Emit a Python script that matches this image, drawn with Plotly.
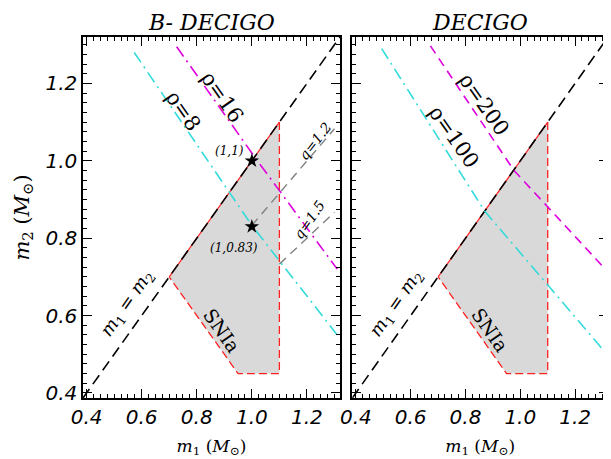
import plotly.graph_objects as go

# ---- data ----
diag = [0.387, 1.32]

snia_m1 = [0.7, 1.1, 1.1, 0.95, 0.7]
snia_m2 = [0.7, 1.1, 0.45, 0.45, 0.7]

q12_m1 = [1.0, 1.3]
q12_m2 = [0.833, 1.083]
q15_m1 = [1.1, 1.3]
q15_m2 = [0.733, 0.867]

left_rho8_m1 = [0.573, 1.0, 1.31]
left_rho8_m2 = [1.28, 0.833, 0.55]
left_rho16_m1 = [0.727, 1.01, 1.31]
left_rho16_m2 = [1.295, 1.01, 0.72]

right_rho100_m1 = [0.494, 0.87, 1.31]
right_rho100_m2 = [1.29, 0.87, 0.505]
right_rho200_m1 = [0.672, 0.977, 1.31]
right_rho200_m2 = [1.297, 0.975, 0.72]

star_m1 = [1.0, 1.0]
star_m2 = [1.0, 0.83]
star_labels = ["(1,1)", "(1,0.83)"]

tick_vals = [0.4, 0.6, 0.8, 1.0, 1.2]
tick_text = ["0.4", "0.6", "0.8", "1.0", "1.2"]
axis_range = [0.387, 1.32]

CYAN = "#33dada"
MAGENTA = "#dd00dd"
RED = "#ff2020"
GRAY = "#808080"
SERIF = "DejaVu Serif"

fig = go.Figure()


def panel(xa, ya, rho_lo, rho_hi, hi_dash, show_q):
    # SNIa region
    fig.add_trace(go.Scatter(x=snia_m1, y=snia_m2, mode="lines", fill="toself",
                             fillcolor="#d9d9d9", line=dict(width=0),
                             xaxis=xa, yaxis=ya, hoverinfo="skip"))
    fig.add_trace(go.Scatter(x=snia_m1[:2], y=snia_m2[:2], mode="lines",
                             line=dict(color=RED, width=1.2),
                             xaxis=xa, yaxis=ya))
    fig.add_trace(go.Scatter(x=snia_m1[1:], y=snia_m2[1:], mode="lines",
                             line=dict(color=RED, width=1.3, dash="8px,4px"),
                             xaxis=xa, yaxis=ya))
    # m1 = m2
    fig.add_trace(go.Scatter(x=diag, y=diag, mode="lines",
                             line=dict(color="black", width=1.6, dash="11px,6px"),
                             xaxis=xa, yaxis=ya))
    if show_q:
        for qx, qy in ((q12_m1, q12_m2), (q15_m1, q15_m2)):
            fig.add_trace(go.Scatter(x=qx, y=qy, mode="lines",
                                     line=dict(color=GRAY, width=1.4, dash="9px,6px"),
                                     xaxis=xa, yaxis=ya))
    fig.add_trace(go.Scatter(x=rho_lo[0], y=rho_lo[1], mode="lines",
                             line=dict(color=CYAN, width=1.6, dash="12px,5px,2px,5px"),
                             xaxis=xa, yaxis=ya))
    fig.add_trace(go.Scatter(x=rho_hi[0], y=rho_hi[1], mode="lines",
                             line=dict(color=MAGENTA, width=1.6, dash=hi_dash),
                             xaxis=xa, yaxis=ya))


panel("x", "y", (left_rho8_m1, left_rho8_m2), (left_rho16_m1, left_rho16_m2),
      "12px,5px,2px,5px", True)
panel("x2", "y2", (right_rho100_m1, right_rho100_m2), (right_rho200_m1, right_rho200_m2),
      "9px,6px", False)

fig.add_trace(go.Scatter(x=star_m1, y=star_m2, mode="markers",
                         marker=dict(symbol="star", size=11, color="black"),
                         xaxis="x", yaxis="y"))

axis_common = dict(range=axis_range, tickvals=tick_vals, ticktext=tick_text,
                   automargin=False,
                   ticks="inside", ticklen=9, tickwidth=1.3, tickcolor="black",
                   showline=True, linecolor="black", linewidth=1.5, mirror="allticks",
                   showgrid=False, zeroline=False,
                   minor=dict(dtick=0.025, tick0=0.4, ticks="inside", ticklen=4,
                              tickwidth=1, tickcolor="black", showgrid=False),
                   tickfont=dict(family="DejaVu Sans", size=20, color="black", style="italic"))

xtitle = dict(text="<i>m</i><sub>1</sub> (<i>M</i><sub>⊙</sub>)",
              font=dict(family=SERIF, size=17, color="black"), standoff=12)
ytitle = dict(text="<i>m</i><sub>2</sub> (<i>M</i><sub>⊙</sub>)",
              font=dict(family=SERIF, size=21, color="black"), standoff=10)

# the page places the figure 8px in from the top-left corner
fig.update_layout(
    width=603, height=451,
    margin=dict(l=75, r=3, t=29, b=61),
    paper_bgcolor="white", plot_bgcolor="white",
    showlegend=False,
    xaxis=dict(domain=[0, 0.4895], anchor="y", title=xtitle, **axis_common),
    xaxis2=dict(domain=[0.513, 1], anchor="y2", title=xtitle, **axis_common),
    yaxis=dict(domain=[0, 1], anchor="x", title=ytitle, **axis_common),
    yaxis2=dict(domain=[0, 1], anchor="x2", **axis_common),
)
fig.update_layout(yaxis2=dict(showticklabels=False))

ann = []


def label(text, x, y, xref, yref, size, angle=0, italic=False, family=SERIF):
    ann.append(dict(text=text, x=x, y=y, xref=xref, yref=yref, showarrow=False,
                    textangle=angle, xanchor="center", yanchor="middle",
                    font=dict(family=family, size=size, color="black",
                              style="italic" if italic else "normal")))


# titles
ann.append(dict(text="B- DECIGO", x=0.2448, y=1.0, xref="paper", yref="paper",
                xanchor="center", yanchor="bottom", yshift=0, showarrow=False,
                font=dict(family=SERIF, size=22, color="black", style="italic")))
ann.append(dict(text="DECIGO", x=0.7565, y=1.0, xref="paper", yref="paper",
                xanchor="center", yanchor="bottom", yshift=0, showarrow=False,
                font=dict(family=SERIF, size=22, color="black", style="italic")))

for xr, yr in (("x", "y"), ("x2", "y2")):
    label("<i>m</i><sub>1</sub> = <i>m</i><sub>2</sub>", 0.55, 0.632, xr, yr, 18, -55)
    label("SNIa", 0.89, 0.563, xr, yr, 19, 55)

label("ρ=8", 0.752, 1.13, "x", "y", 21, 55)
label("ρ=16", 0.892, 1.165, "x", "y", 21, 55)
label("q=1.2", 1.231, 1.05, "x", "y", 14, -52, italic=True)
label("q=1.5", 1.208, 0.847, "x", "y", 14, -55, italic=True)
label("(1,1)", 0.92, 1.025, "x", "y", 12, 0, italic=True)
label("(1,0.83)", 0.935, 0.775, "x", "y", 12, 0, italic=True)

label("ρ=100", 0.758, 1.062, "x2", "y2", 21, 55)
label("ρ=200", 0.866, 1.146, "x2", "y2", 21, 55)

fig.update_layout(annotations=ann)

fig.write_html("out.html")
